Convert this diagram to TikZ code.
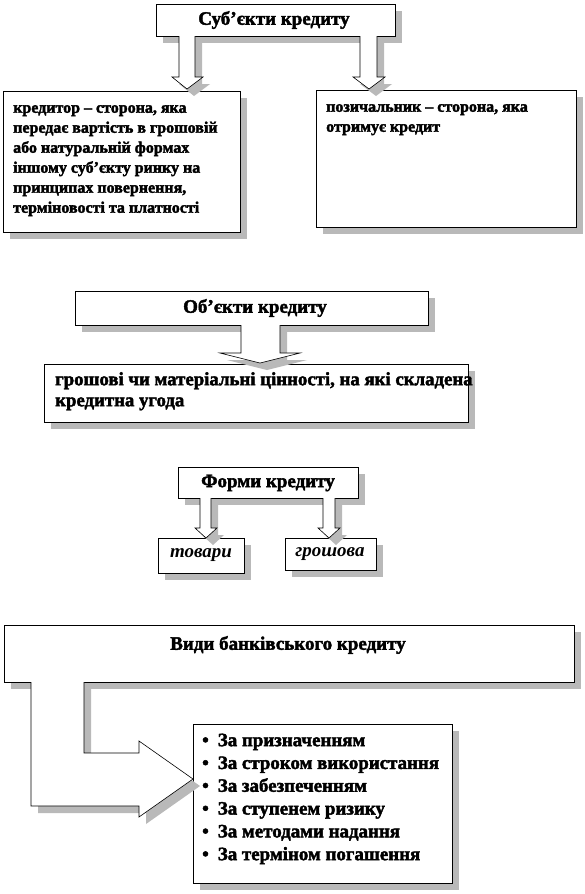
\documentclass[tikz,border=0pt]{standalone}
\usepackage{fontspec}
\setmainfont{Liberation Serif}[BoldFeatures={FakeBold=2.2}]
\begin{document}
\begin{tikzpicture}[x=1pt,y=-1pt,
  box/.style={draw=black,line width=0.7pt,fill=white},
  shade/.style={fill=gray!55,draw=none},
  barrow/.style={draw=black,line width=0.6pt,fill=white},
  title/.style={font=\fontsize{19}{22}\selectfont\bfseries,inner sep=0pt},
  body/.style={font=\fontsize{16}{20}\selectfont\bfseries,inner sep=0pt,align=left,anchor=north west},
]
\useasboundingbox (0,0) rectangle (585,894);
\fill[white] (0,0) rectangle (585,894);

% ---------- box shadows ----------
\fill[shade] (163,11) rectangle (402,43);
\fill[shade] (10,98) rectangle (247,239);
\fill[shade] (323,97) rectangle (583,234);
\fill[shade] (82,298) rectangle (435,332);
\fill[shade] (51,371) rectangle (475,429);
\fill[shade] (185,474) rectangle (365,505);
\fill[shade] (165,545) rectangle (251,580);
\fill[shade] (292,545) rectangle (383,577);
\fill[shade] (11,632) rectangle (581,689);
\fill[shade] (200,731) rectangle (459,890);

% ---------- boxes ----------
\node[box,minimum width=239pt,minimum height=32pt,anchor=north west] (subj) at (156,4) {};
\node[title] (subjT) at (274,20) {Суб’єкти кредиту};

\node[box,minimum width=237pt,minimum height=141pt,anchor=north west] (kred) at (3,91) {};
\node[body] (kredT) at (13,105) {кредитор – сторона, яка\\передає вартість в грошовій\\або натуральній формах\\іншому суб’єкту ринку на\\принципах повернення,\\терміновості та платності};

\node[box,minimum width=260pt,minimum height=137pt,anchor=north west] (poz) at (316,90) {};
\node[body] (pozT) at (326,104) {позичальник – сторона, яка\\отримує кредит};

\node[box,minimum width=353pt,minimum height=34pt,anchor=north west] (obj) at (75,291) {};
\node[title] (objT) at (255,308) {Об’єкти кредиту};

\node[box,minimum width=424pt,minimum height=58pt,anchor=north west] (val) at (44,364) {};
\node[body,font=\fontsize{18.8}{21}\selectfont\bfseries] (valT) at (55,372) {грошові чи матеріальні цінності, на які складена\\кредитна угода};

\node[box,minimum width=180pt,minimum height=31pt,anchor=north west] (form) at (178,467) {};
\node[title] (formT) at (268,483) {Форми кредиту};

\node[box,minimum width=86pt,minimum height=35pt,anchor=north west] (tov) at (158,538) {};
\node[title,font=\fontsize{19}{22}\selectfont\bfseries\itshape] (tovT) at (201,555) {товари};

\node[box,minimum width=91pt,minimum height=32pt,anchor=north west] (gro) at (285,538) {};
\node[title,font=\fontsize{19}{22}\selectfont\bfseries\itshape] (groT) at (330,554) {грошова};

\node[box,minimum width=570pt,minimum height=57pt,anchor=north west] (vydy) at (4,625) {};
\node[title] (vydyT) at (288,645) {Види банківського кредиту};

\node[box,minimum width=259pt,minimum height=159pt,anchor=north west] (list) at (193,724) {};
\node[inner sep=0pt,anchor=north west,font=\fontsize{18.9}{22.8}\selectfont\bfseries] (listT) at (202,730)
{\begin{tabular}{@{}l@{\hspace{9pt}}l@{}}
•&За призначенням\\
•&За строком використання\\
•&За забезпеченням\\
•&За ступенем ризику\\
•&За методами надання\\
•&За терміном погашення
\end{tabular}};

% ---------- block arrows: shadows ----------
\begin{scope}[shift={(7,7)}]
\fill[shade] (179,36) -- (195,36) -- (195,77) -- (203,77) -- (187,89) -- (172,77) -- (179,77) -- cycle;
\fill[shade] (360,36) -- (377,36) -- (377,77) -- (385,77) -- (369,89) -- (353,77) -- (360,77) -- cycle;
\fill[shade] (241,325) -- (280,325) -- (280,353) -- (300,353) -- (260,363) -- (220,353) -- (241,353) -- cycle;
\fill[shade] (200,498) -- (211,498) -- (211,528) -- (217,528) -- (206,538) -- (195,528) -- (200,528) -- cycle;
\fill[shade] (323,498) -- (335,498) -- (335,528) -- (340,528) -- (329,538) -- (318,528) -- (323,528) -- cycle;
\fill[shade] (31,682) -- (31,806) -- (139,806) -- (139,817) -- (193,779) -- (139,741) -- (139,753) -- (84,753) -- (84,682) -- cycle;
\end{scope}

% ---------- block arrows ----------
\draw[barrow] (179,36) -- (179,77) -- (172,77) -- (187,89) -- (203,77) -- (195,77) -- (195,36);
\draw[barrow] (360,36) -- (360,77) -- (353,77) -- (369,89) -- (385,77) -- (377,77) -- (377,36);
\draw[barrow] (241,325) -- (241,353) -- (220,353) -- (260,363) -- (300,353) -- (280,353) -- (280,325);
\draw[barrow] (200,498) -- (200,528) -- (195,528) -- (206,538) -- (217,528) -- (211,528) -- (211,498);
\draw[barrow] (323,498) -- (323,528) -- (318,528) -- (329,538) -- (340,528) -- (335,528) -- (335,498);
\draw[barrow] (31,682) -- (31,806) -- (139,806) -- (139,817) -- (193,779) -- (139,741) -- (139,753) -- (84,753) -- (84,682);
\end{tikzpicture}
\end{document}
